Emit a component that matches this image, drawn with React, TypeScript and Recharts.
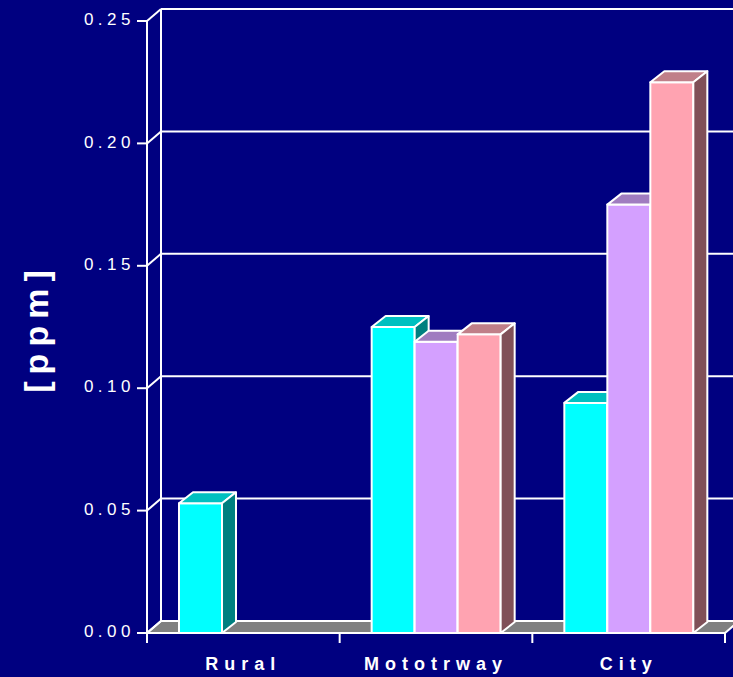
import { BarChart, Bar, XAxis, YAxis, CartesianGrid } from 'recharts'

const categories = ['Rural', 'Mototrway', 'City']
const seriesA = [0.053, 0.125, 0.094]
const seriesB = [null, 0.119, 0.175]
const seriesC = [null, 0.122, 0.225]
const yTicks = [0, 0.05, 0.1, 0.15, 0.2, 0.25]

const data = categories.map((name, i) => ({
  name,
  a: seriesA[i],
  b: seriesB[i],
  c: seriesC[i],
}))

const W = 733
const H = 677
const LEFT = 147
const TOP = 21
const RIGHT = 8
const BOTTOM = 44
const PLOT_BOTTOM = H - BOTTOM
const CAT_W = (W - LEFT - RIGHT) / categories.length

// offset of the back wall / floor, and depth of each bar
const WALL_DX = 14
const WALL_DY = 12
const BAR_DX = 14
const BAR_DY = 11

const BG = '#000080'
const FONT = '"Liberation Sans", Arial, Helvetica, sans-serif'

const FACES = [
  { front: '#00ffff', top: '#00c0c0', side: '#008080' },
  { front: '#d4a0ff', top: '#a07cc0', side: '#6a5080' },
  { front: '#ffa3b1', top: '#c07f89', side: '#805058' },
]

const bar3d = (face: (typeof FACES)[number]) => (props: any) => {
  const { x, y, width, height } = props
  if (!height || height <= 0) return <g />
  const r = x + width
  const b = y + height
  return (
    <g stroke="#fff" strokeWidth={2} strokeLinejoin="round">
      <rect x={x} y={y} width={width} height={height} fill={face.front} />
      <polygon
        points={`${x},${y} ${r},${y} ${r + BAR_DX},${y - BAR_DY} ${x + BAR_DX},${y - BAR_DY}`}
        fill={face.top}
      />
      <polygon
        points={`${r},${y} ${r + BAR_DX},${y - BAR_DY} ${r + BAR_DX},${b - BAR_DY} ${r},${b}`}
        fill={face.side}
      />
    </g>
  )
}

function YTick({ y, payload }: any) {
  return (
    <g>
      <line x1={LEFT - 10} y1={y} x2={LEFT} y2={y} stroke="#fff" strokeWidth={2} />
      <line x1={LEFT} y1={y} x2={LEFT + WALL_DX} y2={y - WALL_DY} stroke="#fff" strokeWidth={2} />
      <text
        x={LEFT - 12}
        y={y}
        dy="0.25em"
        textAnchor="end"
        fill="#fff"
        fontSize={17}
        letterSpacing={4.5}
        fontFamily={FONT}
      >
        {Number(payload.value).toFixed(2)}
      </text>
    </g>
  )
}

function XTick({ x, payload, index }: any) {
  const half = CAT_W / 2
  return (
    <g>
      <line x1={x - half} y1={PLOT_BOTTOM} x2={x - half} y2={PLOT_BOTTOM + 10} stroke="#fff" strokeWidth={2} />
      {index === categories.length - 1 && (
        <line x1={x + half} y1={PLOT_BOTTOM} x2={x + half} y2={PLOT_BOTTOM + 10} stroke="#fff" strokeWidth={2} />
      )}
      <text
        x={x}
        y={PLOT_BOTTOM + 37}
        textAnchor="middle"
        fill="#fff"
        fontSize={18}
        fontWeight="bold"
        letterSpacing={6}
        fontFamily={FONT}
      >
        {payload.value}
      </text>
    </g>
  )
}

// grid lines sit on the back wall; the zero line becomes the floor
const backLine = (props: any) => {
  const { x1, y1, x2, key } = props
  const y = y1 - WALL_DY
  if (Math.abs(y1 - PLOT_BOTTOM) < 1) {
    return (
      <polygon
        key={key}
        points={`${x1},${y1} ${x2},${y1} ${x2 + WALL_DX},${y} ${x1 + WALL_DX},${y}`}
        fill="#808080"
        stroke="#fff"
        strokeWidth={2}
      />
    )
  }
  return <line key={key} x1={x1 + WALL_DX} y1={y} x2={x2 + WALL_DX} y2={y} stroke="#fff" strokeWidth={2} />
}

const backEdge = (props: any) => {
  const { x1, y1, y2, key } = props
  return (
    <line
      key={key}
      x1={x1 + WALL_DX}
      y1={y1 - WALL_DY}
      x2={x1 + WALL_DX}
      y2={y2 - WALL_DY}
      stroke="#fff"
      strokeWidth={2}
    />
  )
}

const UnitLabel = () => (
  <text
    transform={`translate(48, 328) rotate(-90)`}
    textAnchor="middle"
    fill="#fff"
    fontSize={34}
    fontWeight="bold"
    letterSpacing={7}
    fontFamily={FONT}
  >
    [ppm]
  </text>
)

export default function App() {
  return (
    <div style={{ width: W, height: H, background: BG, overflow: 'hidden' }}>
      <style>{`body { margin: 0; background: ${BG}; }`}</style>
      <BarChart
        width={W}
        height={H}
        data={data}
        margin={{ top: TOP, right: RIGHT, bottom: 0, left: 0 }}
        barCategoryGap={32}
        barGap={0}
      >
        <CartesianGrid
          horizontal={backLine}
          vertical={backEdge}
          verticalCoordinatesGenerator={({ offset }: any) => [offset.left]}
        />
        <XAxis
          dataKey="name"
          height={BOTTOM}
          interval={0}
          axisLine={{ stroke: '#fff', strokeWidth: 2 }}
          tickLine={false}
          tick={<XTick />}
        />
        <YAxis
          type="number"
          domain={[0, 0.25]}
          ticks={yTicks}
          width={LEFT}
          axisLine={{ stroke: '#fff', strokeWidth: 2 }}
          tickLine={false}
          tick={<YTick />}
          label={<UnitLabel />}
        />
        <Bar dataKey="a" fill={FACES[0].front} shape={bar3d(FACES[0])} isAnimationActive={false} />
        <Bar dataKey="b" fill={FACES[1].front} shape={bar3d(FACES[1])} isAnimationActive={false} />
        <Bar dataKey="c" fill={FACES[2].front} shape={bar3d(FACES[2])} isAnimationActive={false} />
      </BarChart>
    </div>
  )
}
